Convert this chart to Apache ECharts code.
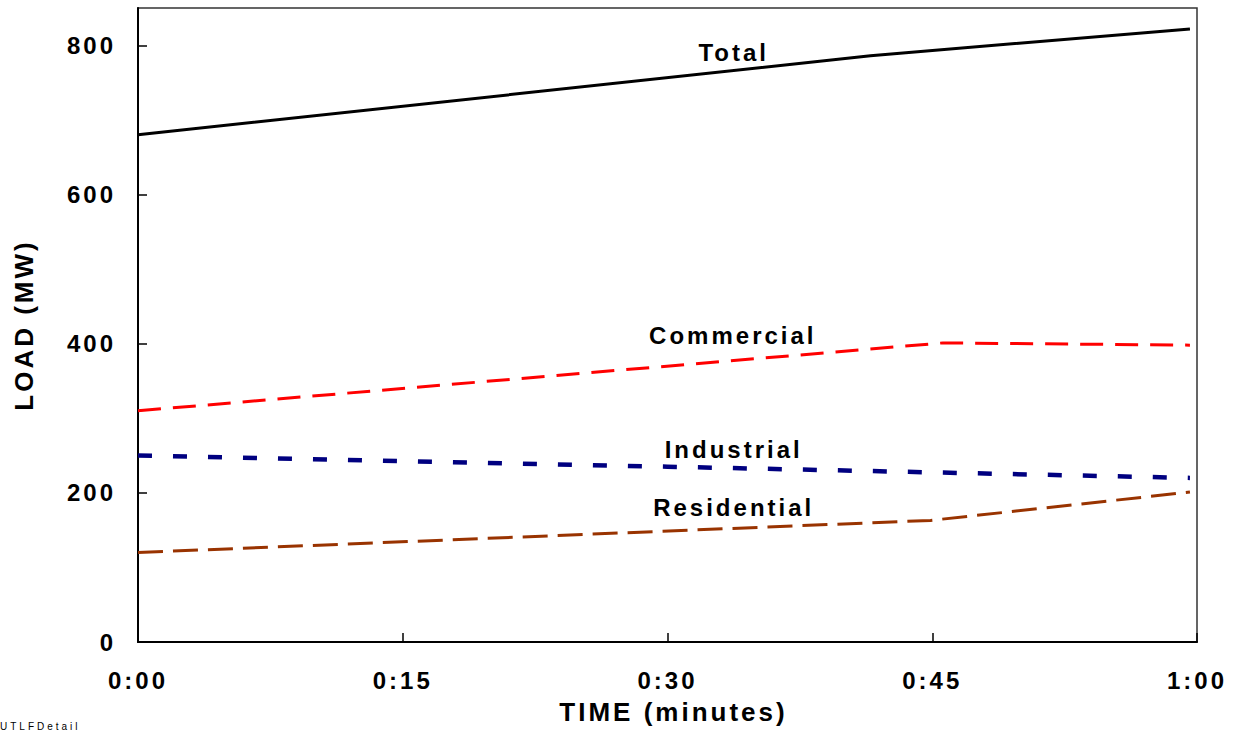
<!DOCTYPE html>
<html><head><meta charset="utf-8">
<script src="https://cdn.jsdelivr.net/npm/echarts@6/dist/echarts.min.js"></script>
<style>
html,body{margin:0;padding:0;background:#fff;}
#chart{width:1233px;height:732px;}
#chart text{letter-spacing:3px;}
</style></head><body><div id="chart"></div>
<script>
// x in minutes, y in MW
const xTickLabels = ['0:00', '0:15', '0:30', '0:45', '1:00'];
const yTickValues = [0, 200, 400, 600, 800];
const seriesNames = ['Total', 'Commercial', 'Industrial', 'Residential'];
const totalData = [[0, 680], [41.5, 786], [59.6, 822]];
const commercialData = [[0, 310], [45.6, 401], [59.6, 398]];
const industrialData = [[0, 250], [30, 235], [59.6, 220]];
const residentialData = [[0, 120], [44.9, 163], [59.6, 201]];
// where each series name is written (data coordinates)
const labelAnchors = [[33.75, 791], [33.7, 410.5], [33.75, 258], [33.75, 180.5]];

const chart = echarts.init(document.getElementById('chart'), null, {renderer: 'svg'});
const FONT = 'Liberation Sans, Arial, sans-serif';
const lineStyles = [
  {color: '#000000', width: 3, type: 'solid'},
  {color: '#ff0000', width: 3, type: [23, 12]},
  {color: '#000080', width: 4.5, type: [14, 21]},
  {color: '#993300', width: 3, type: [25, 10]}
];
const datas = [totalData, commercialData, industrialData, residentialData];

chart.setOption({
  animation: false,
  backgroundColor: '#ffffff',
  grid: {left: 138, right: 36, top: 8, bottom: 90, show: true, borderColor: '#333', borderWidth: 1.5},
  xAxis: {
    type: 'value', min: 0, max: 60, interval: 15,
    axisLine: {show: true, lineStyle: {color: '#000', width: 2}},
    axisTick: {show: true, inside: true, length: 9, lineStyle: {color: '#000', width: 1.5}},
    splitLine: {show: false},
    axisLabel: {
      margin: 26, color: '#000', fontSize: 24, fontWeight: 'bold', fontFamily: FONT,
      formatter: v => xTickLabels[Math.round(v / 15)] || ''
    },
    name: 'TIME (minutes)', nameLocation: 'middle', nameGap: 57,
    nameTextStyle: {color: '#000', fontSize: 26, fontWeight: 'bold', fontFamily: FONT, padding: [0, 0, 0, 12]}
  },
  yAxis: {
    type: 'value', min: 0, max: 850, interval: 200,
    axisLine: {show: true, lineStyle: {color: '#000', width: 2}},
    axisTick: {show: true, inside: true, length: 9, lineStyle: {color: '#000', width: 1.5}},
    splitLine: {show: false},
    axisLabel: {
      margin: 22, color: '#000', fontSize: 24, fontWeight: 'bold', fontFamily: FONT,
      showMaxLabel: false,
      formatter: v => (yTickValues.indexOf(v) >= 0 ? String(v) : '')
    },
    name: 'LOAD (MW)', nameLocation: 'middle', nameGap: 101,
    nameTextStyle: {color: '#000', fontSize: 26, fontWeight: 'bold', fontFamily: FONT}
  },
  series: datas.map((d, i) => ({
    name: seriesNames[i], type: 'line', data: d, symbol: 'none', smooth: false,
    lineStyle: lineStyles[i], z: 10 - i
  }))
});

const texts = seriesNames.map((n, i) => {
  const p = chart.convertToPixel({gridIndex: 0}, labelAnchors[i]);
  return {
    type: 'text', x: p[0], y: p[1], z: 100,
    style: {text: n, fill: '#000', font: 'bold 24px ' + FONT, align: 'center', verticalAlign: 'middle'}
  };
});
texts.push({
  type: 'text', left: 0, top: 721, z: 100,
  style: {text: 'UTLFDetail', fill: '#000', font: '10px ' + FONT}
});
chart.setOption({graphic: texts});
</script></body></html>
